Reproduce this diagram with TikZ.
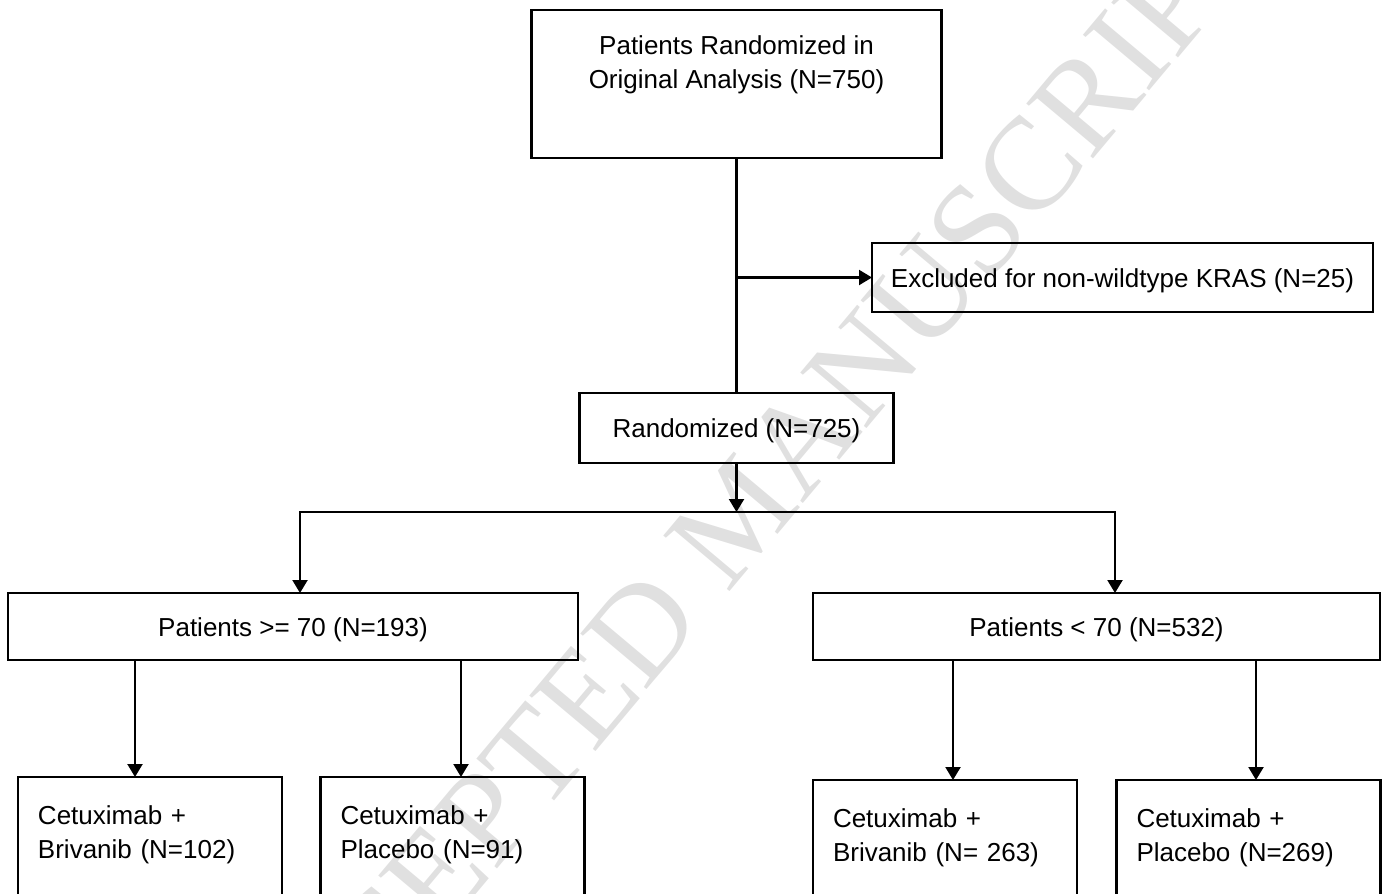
\documentclass[tikz,border=0pt]{standalone}
\usepackage{fontspec}
\setmainfont{Liberation Sans}
\newfontfamily\wmfont{Liberation Serif}
\usetikzlibrary{arrows.meta,positioning,calc}

\begin{document}
\begin{tikzpicture}[x=0.5pt,y=-0.5pt,>={Triangle[length=6.5pt,width=7.5pt]},
  box/.style={draw,line width=1.1pt,inner sep=0pt,outer sep=0pt,align=center,font=\fontsize{13}{17}\selectfont},
  linebox/.style={box,text height=12.5pt,text depth=2.7pt},
  armbox/.style={box,minimum height=77pt,inner xsep=10pt,text width=112pt,align=left},
  link/.style={line width=1.1pt}]
\useasboundingbox (0,0) rectangle (1388,894);
% watermark
\node[rotate=50,text=black!12,font=\wmfont\fontsize{66}{66}\selectfont] (wm) at (738,515) {ACCEPTED MANUSCRIPT};
% boxes
\node[box,minimum width=205pt,minimum height=74pt] (orig) at (736.5,84) {Patients Randomized in\\Original Analysis (N=750)\\ \strut};
\node[linebox,minimum width=250.5pt,minimum height=34.5pt] (excl) at (1122.5,277.5) {Excluded for non-wildtype KRAS (N=25)};
\node[linebox,minimum width=157pt,minimum height=35pt] (rand) at (736.5,428) {Randomized (N=725)};
\node[linebox,minimum width=285pt,minimum height=33.5pt] (old) at (293,626.5) {Patients >= 70 (N=193)};
\node[linebox,minimum width=283.5pt,minimum height=33.5pt] (young) at (1096.5,626.5) {Patients < 70 (N=532)};
\node[armbox] (oldbriv) at (150,854) {Cetuximab +\\Brivanib (N=102)\\ \strut};
\node[armbox] (oldplac) at (452.5,854) {Cetuximab +\\Placebo (N=91)\\ \strut};
\node[armbox] (youngbriv) at (945,857) {Cetuximab +\\Brivanib (N= 263)\\ \strut};
\node[armbox] (youngplac) at (1248.5,857) {Cetuximab +\\Placebo (N=269)\\ \strut};
% connectors
\draw[link] (orig) -- (rand);
\coordinate (cut) at (orig.south |- excl.west);
\draw[link,->] (cut) -- (excl.west);
\coordinate (split) at (736.5,512);
\draw[link,->] (rand) -- (split);
\coordinate (old-in) at ([xshift=3.5pt]old.north);
\coordinate (young-in) at ([xshift=9.25pt]young.north);
\draw[link,->] (split) -| (old-in);
\draw[link,->] (split) -| (young-in);
\coordinate (oldbriv-in) at ([xshift=-7.5pt]oldbriv.north);
\coordinate (oldplac-in) at ([xshift=4.25pt]oldplac.north);
\coordinate (youngbriv-in) at ([xshift=4pt]youngbriv.north);
\coordinate (youngplac-in) at ([xshift=3.75pt]youngplac.north);
\draw[link,->] (oldbriv-in |- old.south) -- (oldbriv-in);
\draw[link,->] (oldplac-in |- old.south) -- (oldplac-in);
\draw[link,->] (youngbriv-in |- young.south) -- (youngbriv-in);
\draw[link,->] (youngplac-in |- young.south) -- (youngplac-in);
\end{tikzpicture}
\end{document}
